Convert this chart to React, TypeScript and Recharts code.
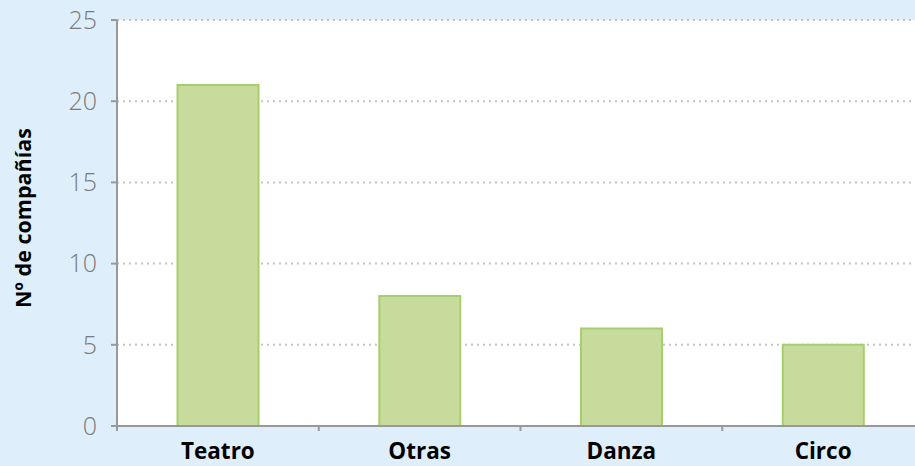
import React from "react";
import { BarChart, Bar, XAxis, YAxis, CartesianGrid } from "recharts";

const categories = ["Teatro", "Otras", "Danza", "Circo"];
const companias = [21, 8, 6, 5];
const yTicks = [0, 5, 10, 15, 20, 25];
const yLabel = "Nº de compañías";

const data = categories.map((c, i) => ({ name: c, value: companias[i] }));

const FONT = "'Open Sans', sans-serif";

const XTick = (props: any) => {
  const { x, y, payload } = props;
  const off = payload.offset || 0;
  return (
    <g>
      <line x1={x - off} x2={x - off} y1={y - 5} y2={y - 1} stroke="#999" strokeWidth={2} />
      <text x={x} y={y + 27} textAnchor="middle" fontFamily={FONT} fontWeight={700} fontSize={22.5} fill="#000">
        {payload.value}
      </text>
    </g>
  );
};

const YLabel = (props: any) => {
  const vb = props.viewBox || { x: 0, y: 0, width: 0, height: 0 };
  const cx = 22;
  const cy = vb.y + vb.height / 2 - 5;
  return (
    <text
      x={cx}
      y={cy}
      transform={`rotate(-90 ${cx} ${cy})`}
      textAnchor="middle"
      dominantBaseline="central"
      fontFamily={FONT}
      fontWeight={700}
      fontSize={21.5}
      fill="#000"
    >
      {yLabel}
    </text>
  );
};

export default function App() {
  return (
    <div style={{ position: "absolute", left: 0, top: 0, width: 915, height: 466, overflow: "hidden", background: "#deeffb" }}>
      <BarChart
        width={924}
        height={466}
        data={data}
        margin={{ top: 20, right: 0, left: 0, bottom: 0 }}
        barCategoryGap="30%"
      >
        <CartesianGrid vertical={false} fill="#fff" stroke="#c4c4c4" strokeWidth={2} strokeDasharray="2 4" />
        <XAxis
          dataKey="name"
          height={40}
          axisLine={{ stroke: "#999", strokeWidth: 2 }}
          tickLine={false}
          tick={<XTick />}
          tickMargin={0}
          interval={0}
        />
        <YAxis
          width={117}
          domain={[0, 25]}
          ticks={yTicks}
          axisLine={{ stroke: "#999", strokeWidth: 2 }}
          tickLine={{ stroke: "#999", strokeWidth: 2 }}
          tickSize={6}
          tickMargin={14}
          tick={{ fontFamily: FONT, fontSize: 25, fill: "#7a7a7a", fontWeight: 300 }}
          label={<YLabel />}
        />
        <Bar dataKey="value" fill="#c7dc9c" stroke="#a6cf6b" strokeWidth={2} isAnimationActive={false} />
      </BarChart>
    </div>
  );
}
